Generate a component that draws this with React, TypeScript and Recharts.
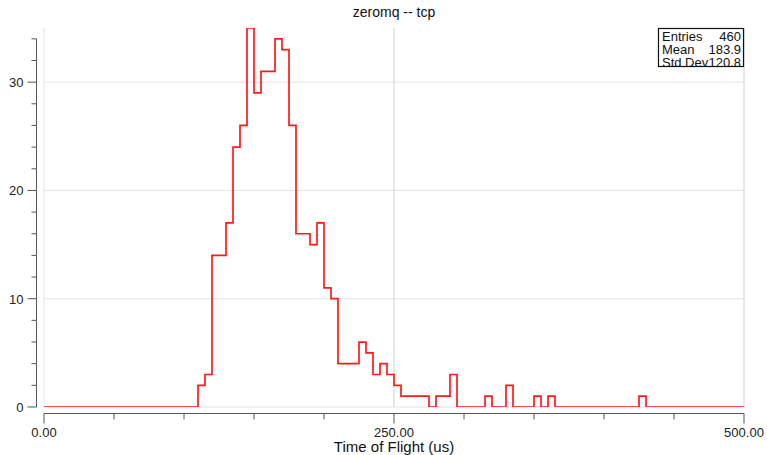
import React from 'react';
import { LineChart, Line, XAxis, YAxis, ReferenceLine } from 'recharts';

const BIN_WIDTH = 5;
const counts = [
  0, 0, 0, 0, 0, 0, 0, 0, 0, 0,
  0, 0, 0, 0, 0, 0, 0, 0, 0, 0,
  0, 0, 2, 3, 14, 14, 17, 24, 26, 35,
  29, 31, 31, 34, 33, 26, 16, 16, 15, 17,
  11, 10, 4, 4, 4, 6, 5, 3, 4, 3,
  2, 1, 1, 1, 1, 0, 1, 1, 3, 0,
  0, 0, 0, 1, 0, 0, 2, 0, 0, 0,
  1, 0, 1, 0, 0, 0, 0, 0, 0, 0,
  0, 0, 0, 0, 0, 1, 0, 0, 0, 0,
  0, 0, 0, 0, 0, 0, 0, 0, 0, 0,
];
const xTicks = [0, 50, 100, 150, 200, 250, 300, 350, 400, 450, 500];
const xLabelTicks = [0, 250, 500];
const yTicks = [0, 2, 4, 6, 8, 10, 12, 14, 16, 18, 20, 22, 24, 26, 28, 30, 32, 34];
const yLabelTicks = [0, 10, 20, 30];
const gridY = [0, 10, 20, 30];
const gridX = [0, 250, 500];
const stats = [
  { name: 'Entries', value: '460' },
  { name: 'Mean', value: '183.9' },
  { name: 'Std Dev', value: '120.8' },
];
const title = 'zeromq -- tcp';
const xTitle = 'Time of Flight (us)';

const data = counts.map((c, i) => ({ t: i * BIN_WIDTH, n: c }));
data.push({ t: counts.length * BIN_WIDTH, n: 0 });

const W = 767;
const H = 455;
const M = { top: 28, right: 23, left: 0, bottom: 0 };
const YW = 44;
const XH = 48;
const plotW = W - M.right - YW;
const plotH = H - M.top - XH;
const FONT = '"Liberation Sans", Arial, sans-serif';
const AX = '#555';

const XTick = (props: any) => {
  const { x, y, payload, index } = props;
  const v = payload.value;
  const major = xLabelTicks.includes(v);
  const ay = y + 6.5;
  const step = (plotW / 500) * 50;
  return (
    <g>
      {index < xTicks.length - 1 && (
        <line x1={x} y1={ay} x2={x + step} y2={ay} stroke={AX} strokeWidth={1} />
      )}
      <line x1={x} y1={ay} x2={x} y2={ay + (major ? 10 : 6)} stroke={AX} strokeWidth={1} />
      {major && (
        <text x={x} y={ay + 23} textAnchor="middle" fontSize={13} fill="#222" fontFamily={FONT}>
          {v.toFixed(2)}
        </text>
      )}
    </g>
  );
};

const YTick = (props: any) => {
  const { x, y, payload, index } = props;
  const v = payload.value;
  const major = yLabelTicks.includes(v);
  const ax = x - 7.5;
  const step = (plotH / 35) * 2;
  return (
    <g>
      {index < yTicks.length - 1 && (
        <line x1={ax} y1={y} x2={ax} y2={y - step} stroke={AX} strokeWidth={1} />
      )}
      <line x1={ax} y1={y} x2={ax - (major ? 9 : 5)} y2={y} stroke={AX} strokeWidth={1} />
      {major && (
        <text x={ax - 13} y={y + 5} textAnchor="end" fontSize={13} fill="#222" fontFamily={FONT}>
          {v}
        </text>
      )}
    </g>
  );
};

export default function App() {
  return (
    <div style={{ position: 'absolute', left: 0, top: 0, width: W, height: H, background: '#fff' }}>
      <LineChart width={W} height={H} data={data} margin={M}>
        {gridY.map((g) => (
          <ReferenceLine key={'y' + g} y={g} stroke="#e2e2e2" strokeWidth={1} />
        ))}
        {gridX.map((g) => (
          <ReferenceLine key={'x' + g} x={g} stroke={g === 0 ? '#e2e2e2' : '#cfcfcf'} strokeWidth={1} />
        ))}
        <XAxis
          dataKey="t"
          type="number"
          domain={[0, 500]}
          ticks={xTicks}
          height={XH}
          axisLine={false}
          tickLine={false}
          tickSize={0}
          tickMargin={0}
          tick={<XTick />}
          interval={0}
        />
        <YAxis
          type="number"
          domain={[0, 35]}
          ticks={yTicks}
          width={YW}
          axisLine={false}
          tickLine={false}
          tickSize={0}
          tickMargin={0}
          tick={<YTick />}
          interval={0}
          allowDataOverflow
        />
        <Line
          type="stepAfter"
          dataKey="n"
          stroke="#ff1a1a"
          strokeWidth={1.7}
          dot={false}
          activeDot={false}
          isAnimationActive={false}
        />
      </LineChart>
      <svg
        width={W}
        height={H}
        style={{ position: 'absolute', left: 0, top: 0, pointerEvents: 'none' }}
      >
        <text x={394} y={17} textAnchor="middle" fontSize={14} fill="#111" fontFamily={FONT}>
          {title}
        </text>
        <text x={394} y={452} textAnchor="middle" fontSize={15} fill="#111" fontFamily={FONT}>
          {xTitle}
        </text>
        <rect x={658.5} y={28.5} width={85} height={38} fill="#fff" stroke="#111" strokeWidth={1.2} />
        {stats.map((s, i) => (
          <g key={s.name}>
            <text x={662} y={41 + i * 13} fontSize={13} fill="#111" fontFamily={FONT}>
              {s.name}
            </text>
            <text x={741} y={41 + i * 13} textAnchor="end" fontSize={13} fill="#111" fontFamily={FONT}>
              {s.value}
            </text>
          </g>
        ))}
      </svg>
    </div>
  );
}
